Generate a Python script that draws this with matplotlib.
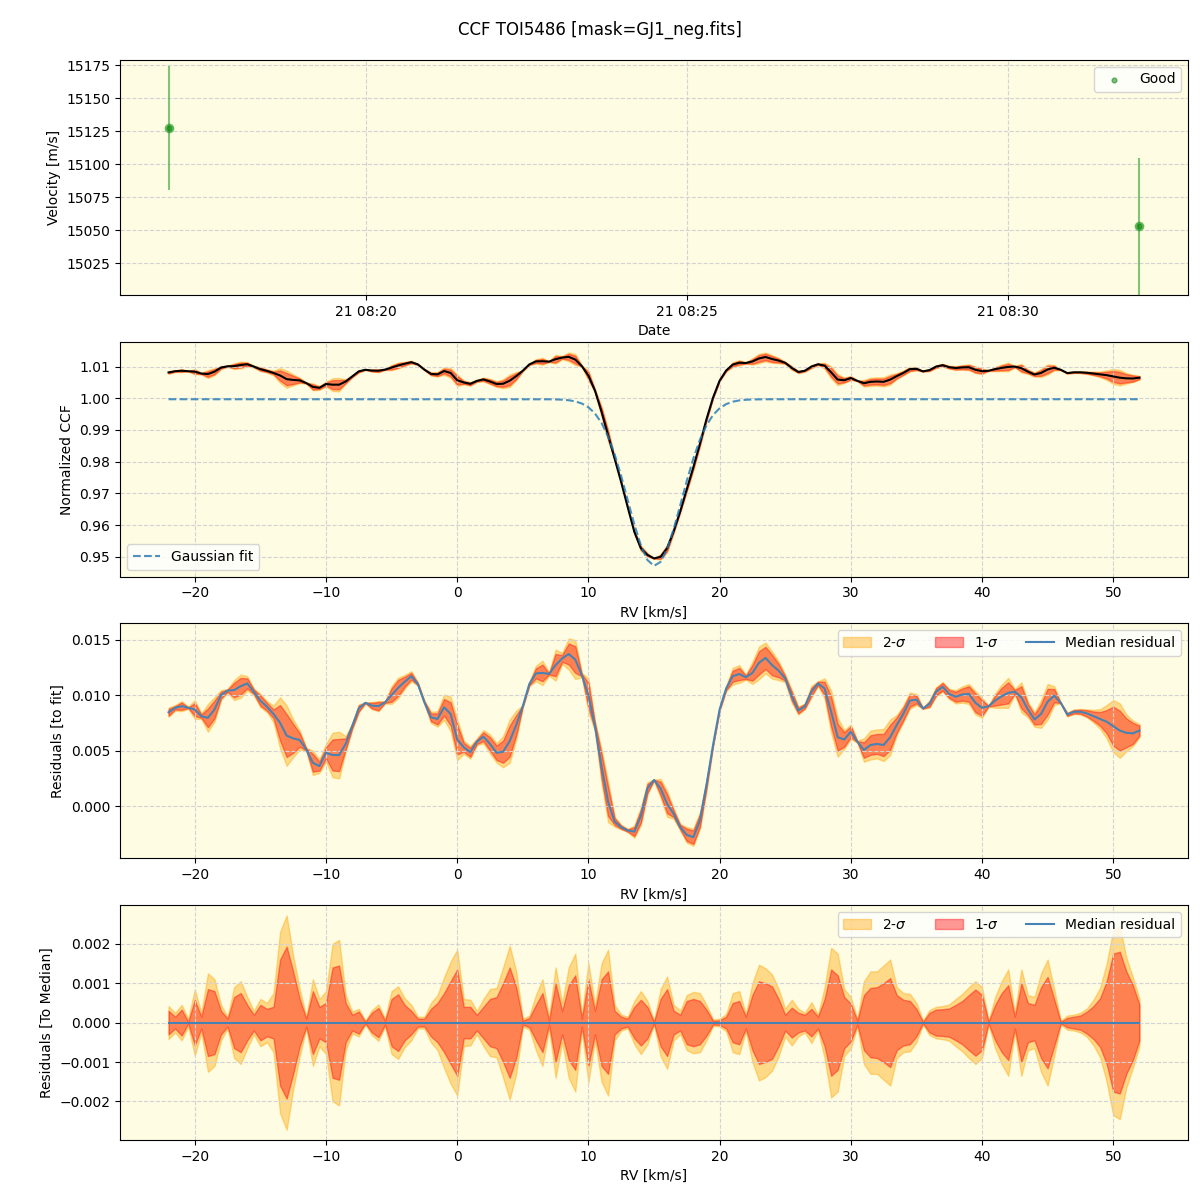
import numpy as np
import matplotlib
matplotlib.use("Agg")
import matplotlib.pyplot as plt
import matplotlib.dates as mdates

# --- time series (top panel)
obs_times = np.array(["2024-06-21T08:16:55", "2024-06-21T08:32:03"], dtype="datetime64[s]")
obs_rv = [15127.3, 15053.0]
obs_err = [47.0, 52.0]

# --- CCF grid and residuals (values in units of 1e-3)
rv = np.arange(-22.0, 52.01, 0.5)

resid_med = [
    8.45, 8.85, 9.0, 8.86, 8.7, 8.1, 7.95, 8.7, 10.0, 10.4,
    10.45, 10.8, 11.05, 10.3, 9.5, 8.95, 8.3, 7.5, 6.35, 6.1,
    5.95, 5.1, 3.9, 3.6, 4.8, 4.6, 4.6, 5.6, 7.2, 8.8,
    9.3, 9.05, 9.0, 9.35, 10.0, 10.65, 11.2, 11.7, 11.0, 9.35,
    8.0, 7.85, 8.9, 8.3, 6.0, 5.3, 4.85, 5.8, 6.25, 5.6,
    4.8, 4.9, 5.85, 7.3, 9.0, 11.0, 11.95, 12.0, 11.9, 12.7,
    13.3, 13.7, 13.2, 11.8, 10.0, 7.2, 3.6, 0.4, -1.4, -1.9,
    -2.2, -2.3, -0.9, 1.6, 2.35, 1.6, 0.2, -0.7, -1.9, -2.6,
    -2.8, -1.3, 1.9, 5.5, 8.7, 10.6, 11.7, 11.9, 11.6, 12.0,
    12.9, 13.35, 12.7, 12.2, 11.5, 9.9, 8.6, 9.0, 10.3, 11.05,
    10.6, 8.5, 6.2, 6.0, 6.7, 5.8, 5.05, 5.5, 5.6, 5.5,
    6.2, 7.3, 8.3, 9.5, 9.6, 8.8, 9.2, 10.3, 10.75, 10.1,
    9.85, 10.05, 10.1, 9.3, 8.85, 9.0, 9.5, 9.9, 10.2, 10.3,
    9.8, 8.7, 7.8, 8.3, 9.4, 9.95, 9.3, 8.25, 8.5, 8.5,
    8.35, 8.1, 7.85, 7.6, 7.2, 6.8, 6.6, 6.55, 6.8,
]

sig1 = [
    0.3, 0.15, 0.33, 0.02, 0.58, 0.15, 0.85, 0.8, 0.3, 0.1,
    0.65, 0.75, 0.45, 0.2, 0.45, 0.35, 0.4, 1.6, 1.93, 1.3,
    0.6, 0.1, 0.8, 0.4, 0.5, 1.4, 1.45, 0.5, 0.2, 0.28,
    0.02, 0.25, 0.37, 0.05, 0.6, 0.72, 0.45, 0.3, 0.1, 0.1,
    0.35, 0.5, 0.75, 1.05, 1.35, 0.4, 0.4, 0.2, 0.4, 0.6,
    0.65, 1.0, 1.4, 0.9, 0.05, 0.12, 0.45, 0.75, 0.05, 1.0,
    0.3, 0.95, 1.2, 0.1, 1.1, 0.3, 1.1, 1.3, 0.3, 0.15,
    0.1, 0.4, 0.58, 0.4, 0.02, 0.6, 0.85, 0.3, 0.2, 0.55,
    0.6, 0.55, 0.33, 0.05, 0.06, 0.15, 0.5, 0.55, 0.15, 0.7,
    1.05, 1.0, 0.92, 0.6, 0.2, 0.38, 0.25, 0.2, 0.35, 0.15,
    0.6, 1.35, 1.2, 0.65, 0.48, 0.05, 0.7, 0.88, 0.9, 1.0,
    1.13, 0.7, 0.58, 0.55, 0.35, 0.02, 0.25, 0.33, 0.34, 0.36,
    0.45, 0.55, 0.7, 0.84, 0.7, 0.02, 0.45, 0.75, 0.95, 0.15,
    1.0, 0.5, 0.45, 0.9, 1.16, 0.6, 0.02, 0.12, 0.15, 0.18,
    0.28, 0.42, 0.62, 1.05, 1.75, 1.8, 1.3, 0.95, 0.45,
]

sig2 = [
    0.42, 0.25, 0.45, 0.1, 0.84, 0.25, 1.25, 1.1, 0.45, 0.15,
    0.9, 1.05, 0.65, 0.3, 0.6, 0.5, 0.75, 2.3, 2.72, 1.7,
    0.85, 0.15, 1.1, 0.6, 0.8, 2.0, 2.1, 0.7, 0.28, 0.35,
    0.05, 0.32, 0.46, 0.1, 0.8, 0.92, 0.62, 0.45, 0.15, 0.15,
    0.5, 0.7, 1.15, 1.55, 1.85, 0.6, 0.58, 0.3, 0.6, 0.85,
    0.88, 1.4, 1.95, 1.3, 0.1, 0.18, 0.7, 1.1, 0.15, 1.4,
    0.5, 1.4, 1.75, 0.2, 1.52, 0.45, 1.5, 1.85, 0.45, 0.2,
    0.15, 0.55, 0.8, 0.55, 0.05, 0.85, 1.17, 0.45, 0.3, 0.7,
    0.78, 0.75, 0.45, 0.08, 0.1, 0.22, 0.75, 0.8, 0.22, 1.0,
    1.47, 1.38, 1.22, 0.85, 0.35, 0.58, 0.35, 0.25, 0.52, 0.2,
    0.9, 1.9, 1.75, 0.85, 0.65, 0.1, 1.05, 1.3, 1.3, 1.45,
    1.6, 0.9, 0.75, 0.73, 0.5, 0.05, 0.32, 0.4, 0.42, 0.46,
    0.6, 0.73, 0.9, 1.05, 0.9, 0.05, 0.65, 1.05, 1.35, 0.25,
    1.35, 0.7, 0.65, 1.25, 1.6, 0.85, 0.05, 0.18, 0.2, 0.25,
    0.36, 0.58, 0.88, 1.5, 2.35, 2.45, 1.65, 1.15, 0.6,
]

# Gaussian fit parameters
fit_cont = 0.9997
fit_depth = 0.0526
fit_center = 15.05
fit_sigma = 2.05

resid_med = np.array(resid_med) * 1e-3
sig1 = np.array(sig1) * 1e-3
sig2 = np.array(sig2) * 1e-3
gauss = fit_cont - fit_depth * np.exp(-0.5 * ((rv - fit_center) / fit_sigma) ** 2)
ccf_med = gauss + resid_med

bg = "#fefce2"
c2 = "orange"
c1 = "red"
grid_kw = dict(color="lightgray", ls="--", lw=0.8)

fig, axes = plt.subplots(4, 1, figsize=(12, 12), dpi=100)
fig.subplots_adjust(left=0.1, right=0.99, top=0.95, bottom=0.05, hspace=0.2)
fig.suptitle("CCF TOI5486 [mask=GJ1_neg.fits]", fontsize=12, y=0.983)

# panel 1: RV vs time
ax = axes[0]
ax.set_facecolor(bg)
ax.errorbar(obs_times, obs_rv, yerr=obs_err, fmt="o", color="tab:green", alpha=0.6, ms=6)
ax.scatter(obs_times, obs_rv, s=12, color="green", alpha=0.5, label="Good", zorder=3)
ax.set_ylim(15001, 15179)
ax.xaxis.set_major_locator(mdates.MinuteLocator(byminute=[20, 25, 30]))
ax.set_xlabel("Date")
ax.set_ylabel("Velocity [m/s]")
ax.grid(True, **grid_kw)
ax.legend(loc="upper right")

# panel 2: CCF
ax = axes[1]
ax.set_facecolor(bg)
ax.fill_between(rv, ccf_med - sig2, ccf_med + sig2, color=c2, alpha=0.4)
ax.fill_between(rv, ccf_med - sig1, ccf_med + sig1, color=c1, alpha=0.4)
ax.plot(rv, ccf_med, color="black", lw=1.5)
ax.plot(rv, gauss, color="C0", ls="--", alpha=0.8, label="Gaussian fit")
ax.set_xlabel("RV [km/s]")
ax.set_ylabel("Normalized CCF")
ax.grid(True, **grid_kw)
ax.legend(loc="lower left")

# panel 3: residuals to fit
ax = axes[2]
ax.set_facecolor(bg)
ax.fill_between(rv, resid_med - sig2, resid_med + sig2, color=c2, alpha=0.4, label=r"2-$\sigma$")
ax.fill_between(rv, resid_med - sig1, resid_med + sig1, color=c1, alpha=0.4, label=r"1-$\sigma$")
ax.plot(rv, resid_med, color="#4682b4", lw=1.5, label="Median residual")
ax.set_ylim(-0.0047, 0.01645)
ax.set_xlabel("RV [km/s]")
ax.set_ylabel("Residuals [to fit]")
ax.grid(True, **grid_kw)
ax.legend(loc="upper right", ncol=3)

# panel 4: residuals to median
ax = axes[3]
ax.set_facecolor(bg)
ax.fill_between(rv, -sig2, sig2, color=c2, alpha=0.4, label=r"2-$\sigma$")
ax.fill_between(rv, -sig1, sig1, color=c1, alpha=0.4, label=r"1-$\sigma$")
ax.plot(rv, np.zeros_like(rv), color="#4682b4", lw=1.5, label="Median residual")
ax.set_ylim(-0.00298, 0.00298)
ax.set_xlabel("RV [km/s]")
ax.set_ylabel("Residuals [To Median]")
ax.grid(True, **grid_kw)
ax.legend(loc="upper right", ncol=3)

fig.savefig("out.png")
